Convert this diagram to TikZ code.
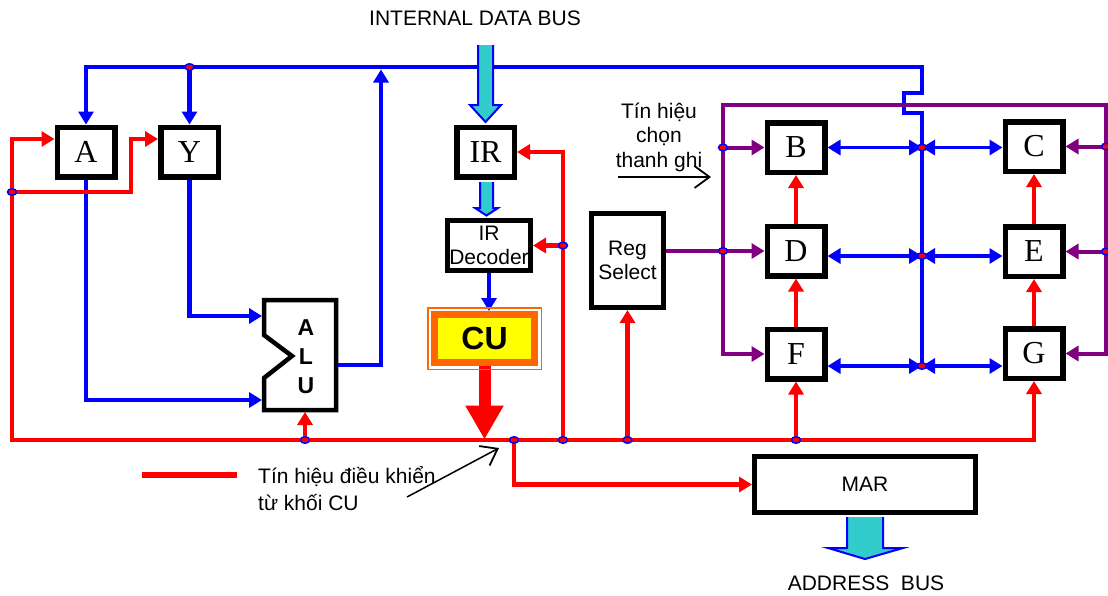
\documentclass[tikz,border=0pt]{standalone}
\usepackage{fontspec}
\setmainfont{Liberation Sans}
\newfontfamily\serifr{Liberation Serif}
\usetikzlibrary{arrows.meta,calc,shapes.geometric}
\definecolor{cbl}{RGB}{0,0,255}
\definecolor{crd}{RGB}{255,0,0}
\definecolor{cpu}{RGB}{128,0,128}
\definecolor{ccy}{RGB}{51,204,204}
\definecolor{cor}{RGB}{255,102,0}
\definecolor{cye}{RGB}{255,255,0}
\begin{document}
\begin{tikzpicture}[x=1pt,y=-1pt,
  arr/.style={-{Triangle[length=13pt,width=15pt]}},
  darr/.style={{Triangle[length=13pt,width=15pt]}-{Triangle[length=13pt,width=15pt]}},
  bline/.style={draw=cbl,line width=4.5pt},
  bthin/.style={draw=cbl,line width=3.5pt},
  rline/.style={draw=crd,line width=4.5pt},
  pline/.style={draw=cpu,line width=4pt},
  regbox/.style={draw,line width=5.5pt,fill=white,inner sep=0pt,minimum width=57.5pt,minimum height=49.5pt,font=\serifr\fontsize{32}{32}\selectfont},
  txtbox/.style={draw,line width=5pt,fill=white,inner sep=0pt,align=center,font=\fontsize{21}{24}\selectfont},
  lbl/.style={inner sep=0pt,font=\fontsize{21}{24}\selectfont},
  jdot/.style={ellipse,draw=cbl,fill=crd,line width=1.5pt,minimum width=9pt,minimum height=6.5pt,inner sep=0pt},
  note/.style={draw=black,line width=1.5pt,-{Straight Barb[length=15pt,width=22pt,line width=1.8pt]}},
  cyarrow/.style={fill=ccy,draw=cbl,line width=2pt,line join=miter},
]
\useasboundingbox[fill=white] (0,0) rectangle (1108,595);

% helper coordinates
\coordinate (topbus) at (0,67);
\coordinate (botbus) at (0,440);
\coordinate (leftx) at (12,0);
\coordinate (bx) at (922,0);
\coordinate (pl) at (723,0);
\coordinate (pr) at (1106,0);
\coordinate (ptop) at (0,105);
\coordinate (irx) at (563,440);
\coordinate (mardot) at (514,440);
\coordinate (ydot) at (12,192);
\coordinate (alu1) at (262,316);
\coordinate (alu2) at (262,400);
\coordinate (aluo) at (338,365);
\coordinate (alub) at (305,412);
\coordinate (aluup) at (381,69.5);

% boxes
\node[regbox] (A) at (86,152) {A};
\node[regbox] (Y) at (189.5,152) {Y};
\node[regbox] (IR) at (485.5,152) {IR};
\node[txtbox,minimum width=83pt,minimum height=50pt] (IRD) at (489,245.5) {IR\\Decoder};
\node[txtbox,minimum width=72pt,minimum height=94pt] (RS) at (627.5,260.5) {Reg\\Select};
\node[regbox] (B) at (796,147.5) {B};
\node[regbox] (D) at (796,251) {D};
\node[regbox] (F) at (796,354) {F};
\node[regbox] (C) at (1034,146.5) {C};
\node[regbox] (E) at (1034,251.5) {E};
\node[regbox] (G) at (1034,353.5) {G};
\node[txtbox,minimum width=221pt,minimum height=56pt] (MAR) at (865,484.5) {MAR};

% ALU
\draw[line width=4.5pt,fill=white,line join=miter] (264,300) -- (336,300) -- (336,410) -- (264,410) -- (264,378) -- (292,356) -- (264,335) -- cycle;
\node[inner sep=0pt,align=center,font=\bfseries\fontsize{23}{29}\selectfont] (ALU) at (306,357) {A\\L\\U};

% CU
\node[draw=cor,fill=cye,line width=7pt,minimum width=100pt,minimum height=48pt,inner sep=0pt,font=\bfseries\fontsize{32}{32}\selectfont] (CU) at (484.5,338.5) {CU};

% top blue bus
\draw[bline,arr] (922,366) -- (922,113) -- (904,113) -- (904,93) -- (922,93) -- (922,67) -- (A.north |- topbus) -- (A.north);
\draw[bline,arr] (Y.north |- topbus) -- (Y.north);
\draw[bline,arr] (aluo) -- (aluo -| aluup) -- (aluup);
\draw[bline,arr] (A.south) -- (A.south |- alu2) -- (alu2);
\draw[bline,arr] (Y.south) -- (Y.south |- alu1) -- (alu1);
\draw[bthin,arr] (IRD.south) -- (IRD.south |- CU.north);

% cyan bus arrows
\filldraw[cyarrow] (478,45) -- (478,105) -- (470,105) -- (485.5,122) -- (501,105) -- (493,105) -- (493,45);
\filldraw[cyarrow] (480,182) -- (480,208) -- (475,208) -- (486.5,215.5) -- (498,208) -- (493,208) -- (493,182);
\filldraw[cyarrow] (847,517) -- (847,548) -- (828,548) -- (865,559) -- (903,548) -- (883,548) -- (883,517);

% red control lines
\coordinate (Ain) at ([yshift=13pt]A.west);
\coordinate (Yin) at ([yshift=13pt]Y.west);
\draw[rline,darr] (Ain) -- (Ain -| leftx) -- (leftx |- botbus) -- (G.south |- botbus) -- (G.south);
\draw[rline,arr] (ydot) -- (131,192) -- (131,139) -- (Yin);
\draw[rline,arr] (alub |- botbus) -- (alub);
\draw[rline,arr] (irx) -- (irx |- IR.east) -- (IR.east);
\draw[rline,arr] (irx |- IRD.east) -- (IRD.east);
\draw[rline,arr] (RS.south |- botbus) -- (RS.south);
\draw[rline,arr] (mardot) -- (mardot |- MAR.west) -- (MAR.west);
\draw[rline,arr] (F.south |- botbus) -- (F.south);
\draw[rline,arr] (D.north) -- (B.south);
\draw[rline,arr] (F.north) -- (D.south);
\draw[rline,arr] (E.north) -- (C.south);
\draw[rline,arr] (G.north) -- (E.south);
\draw[crd,line width=12pt,-{Triangle[length=34pt,width=36pt]}] (CU.south) -- (CU.south |- 0,439.5);
\draw[cor,line width=1.5pt] ([shift={(-3.25pt,3.25pt)}]CU.north west) rectangle ([shift={(3.25pt,-3.25pt)}]CU.south east);

% purple register select lines
\draw[pline,darr] (F.west) -- (F.west -| pl) -- (pl |- ptop) -- (pr |- ptop) -- (pr |- G.east) -- (G.east);
\draw[pline,arr] (RS.east |- D.west) -- (D.west);
\draw[pline,arr] (B.west -| pl) -- (B.west);
\draw[pline,arr] (C.east -| pr) -- (C.east);
\draw[pline,arr] (E.east -| pr) -- (E.east);

% blue register rows
\coordinate (Dr) at ([yshift=-5pt]D.east);
\coordinate (Fr) at ([yshift=-12pt]F.east);
\coordinate (rB) at (B.east -| bx);
\coordinate (rD) at (Dr -| bx);
\coordinate (rF) at (Fr -| bx);
\draw[bthin,darr] (B.east) -- (rB);
\draw[bthin,darr] (rB) -- (rB -| C.west);
\draw[bthin,darr] (Dr) -- (rD);
\draw[bthin,darr] (rD) -- (rD -| E.west);
\draw[bthin,darr] (Fr) -- (rF);
\draw[bthin,darr] (rF) -- (rF -| G.west);

% junction dots
\foreach \p in {(Y.north |- topbus),(ydot),(alub |- botbus),(mardot),(irx),(irx |- IRD.east),(RS.south |- botbus),(F.south |- botbus),(pl |- D.west),(B.west -| pl),(C.east -| pr),(E.east -| pr),(rB),(rD),(rF)}
  \node[jdot] at \p {};

% labels
\node[lbl] (title) at (475,18) {INTERNAL DATA BUS};
\node[lbl] (addr) at (866,583) {ADDRESS\ \ BUS};
\node[lbl,align=center,font=\fontsize{21}{24.5}\selectfont] (sel) at (659,137) {Tín hiệu\\chọn\\thanh ghi};
\coordinate (selA) at (618,177);
\coordinate (selB) at (711,177);
\draw[note] (selA) -- (selB);
\coordinate (lg1) at (142,475);
\coordinate (lg2) at (237,475);
\draw[crd,line width=5.5pt] (lg1) -- (lg2);
\node[lbl,align=left,anchor=west,font=\fontsize{21}{27}\selectfont] (lgt) at (258,488.5) {Tín hiệu điều khiển\\từ khối CU};
\coordinate (lgA) at (407,497);
\coordinate (lgB) at (499,448);
\draw[note] (lgA) -- (lgB);
\end{tikzpicture}
\end{document}
